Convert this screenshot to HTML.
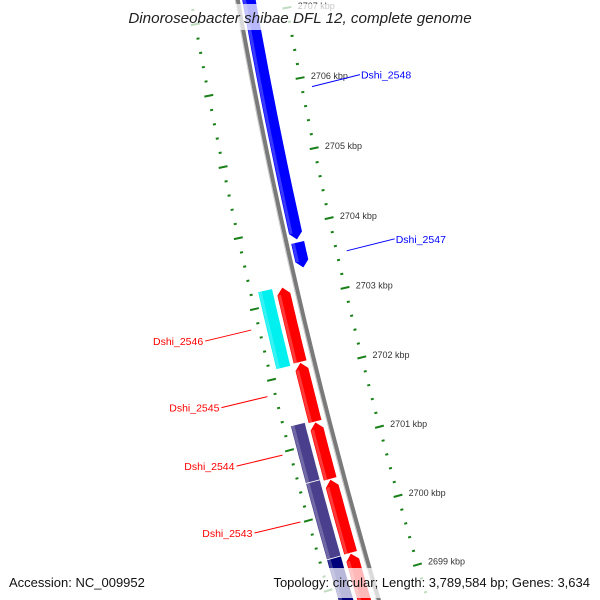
<!DOCTYPE html>
<html><head><meta charset="utf-8">
<style>
html,body{margin:0;padding:0;background:#fff;overflow:hidden;}
svg{display:block;overflow:hidden;font-family:"Liberation Sans","DejaVu Sans",sans-serif;}
</style></head>
<body>
<svg id="map" width="600" height="600" viewBox="0 0 600 600" xmlns="http://www.w3.org/2000/svg">
<defs><clipPath id="frame"><rect width="600" height="600"/></clipPath></defs>
<rect width="600" height="600" fill="#fff"/>
<g clip-path="url(#frame)">
<g id="ticks"></g>
<g id="backbone"></g>
<g id="genes"></g>
<g id="labels"></g>
</g>
<rect x="0" y="4" width="600" height="26" fill="#fff" opacity="0.72"/>
<text x="300" y="23" text-anchor="middle" font-size="15.2" font-style="italic" fill="#222">Dinoroseobacter shibae DFL 12, complete genome</text>
<rect x="0" y="568" width="600" height="30" fill="#fff" opacity="0.72"/>
<text x="9" y="587" font-size="13" fill="#111">Accession: NC_009952</text>
<text x="590" y="587" text-anchor="end" font-size="13" fill="#111">Topology: circular; Length: 3,789,584 bp; Genes: 3,634</text>
</svg>
<script>
// ---- data ----
const tickStart = 2698.6;
const tickEnd = 2707.6;
const tickStep = 0.2;
const tickLabelKbp = [2699, 2700, 2701, 2702, 2703, 2704, 2705, 2706, 2707];
const geneNames = ["Dshi_2548", "Dshi_2547", "Dshi_2546", "Dshi_2545", "Dshi_2544", "Dshi_2543", "Dshi_2542", "cyan-gene", "purple-gene-a", "purple-gene-b", "navy-gene"];
const geneStart = [2707.8, 2703.77, 2703.21, 2702.14, 2701.29, 2700.47, 2699.41, 2703.22, 2701.32, 2700.50, 2699.41];
const geneEnd   = [2703.80, 2703.40, 2702.14, 2701.29, 2700.47, 2699.41, 2698.4, 2702.12, 2700.50, 2699.41, 2698.4];
const geneTrack = [0, 0, 1, 1, 1, 1, 1, 2, 2, 2, 2];
const geneDir   = [-1, -1, 1, 1, 1, 1, 1, 0, 0, 0, 0];
const geneColor = ["#0000ff", "#0000ff", "#ff0000", "#ff0000", "#ff0000", "#ff0000", "#ff0000", "#00f0f0", "#4a3f8c", "#4a3f8c", "#00007a"];
const labelGenes = ["Dshi_2548", "Dshi_2547", "Dshi_2546", "Dshi_2545", "Dshi_2544", "Dshi_2543"];
const labelKbp = [2705.85, 2703.5, 2702.73, 2701.79, 2700.96, 2700.01];
const labelSide = [1, 1, -1, -1, -1, -1];

// ---- geometry (axis functions) ----
const CX = 5746.6, CY = -978.3;
const A0 = 0.19157, AK = 0.012894;
function pt(kbp, r) {
  const a = A0 + (2706 - kbp) * AK;
  return [CX - r * Math.cos(a), CY + r * Math.sin(a)];
}
const R_OUT = 5548, R_IN = 5641, R_BB = 5595;
const trackR = [[5577, 5591], [5602, 5616], [5619, 5634]];
const NS = "http://www.w3.org/2000/svg";
function mk(tag, attrs, parent) {
  const e = document.createElementNS(NS, tag);
  for (const k in attrs) e.setAttribute(k, attrs[k]);
  parent.appendChild(e);
  return e;
}
function arcPts(k1, k2, r, n) {
  const out = [];
  for (let i = 0; i <= n; i++) out.push(pt(k1 + (k2 - k1) * i / n, r));
  return out;
}
const P = p => p.map(q => q[0].toFixed(1) + "," + q[1].toFixed(1)).join(" ");

// ticks
const tg = document.getElementById("ticks");
const nT = Math.round((tickEnd - tickStart) / tickStep);
for (let i = 0; i <= nT; i++) {
  const k = tickStart + i * tickStep;
  const major = Math.abs(k - Math.round(k)) < 0.01;
  const h = major ? 4.5 : 1.5;
  [R_OUT, R_IN].forEach(r => {
    const a = pt(k, r - h), b = pt(k, r + h);
    const ln = mk("line", {x1: a[0], y1: a[1], x2: b[0], y2: b[1], stroke: "#1a801a", "stroke-width": 2}, tg);
    
    
  });
}
tickLabelKbp.forEach(k => {
  const p = pt(k, R_OUT - 11);
  const t = mk("text", {x: p[0], y: p[1] + 3, "font-size": 9, fill: "#333"}, tg);
  t.textContent = k + " kbp";
  
  
});

// backbone
const bb = document.getElementById("backbone");
const bbl = mk("polyline", {points: P(arcPts(2708, 2698.3, R_BB, 20)), fill: "none", stroke: "#7a7a7a", "stroke-width": 4}, bb);


const bbh = mk("polyline", {points: P(arcPts(2708, 2698.3, R_BB + 2.5, 20)), fill: "none", stroke: "#c8c8c8", "stroke-width": 1}, bb);



// genes
const gg = document.getElementById("genes");
const HEAD = 0.1;
geneNames.forEach((nm, i) => {
  const [r1, r2] = trackR[geneTrack[i]];
  const hi = Math.max(geneStart[i], geneEnd[i]), lo = Math.min(geneStart[i], geneEnd[i]);
  const rm = (r1 + r2) / 2;
  let pts;
  if (geneDir[i] === -1) {
    pts = arcPts(hi, lo + HEAD, r1, 12).concat([pt(lo, rm)], arcPts(lo + HEAD, hi, r2, 12));
  } else if (geneDir[i] === 1) {
    pts = arcPts(lo, hi - HEAD, r1, 12).concat([pt(hi, rm)], arcPts(hi - HEAD, lo, r2, 12));
  } else {
    pts = arcPts(hi, lo, r1, 12).concat(arcPts(lo, hi, r2, 12));
  }
  const g = mk("polygon", {points: P(pts), fill: geneColor[i], stroke: "#fff", "stroke-width": 0.8}, gg);
  
  
  const s1 = geneDir[i] === 1 ? hi - HEAD : hi, s0 = geneDir[i] === -1 ? lo + HEAD : lo;
  const sp = arcPts(s1, s0, r2 - 4, 8).concat(arcPts(s0, s1, r2 - 1, 8));
  const sh = mk("polygon", {points: P(sp), fill: "#fff", opacity: 0.22}, gg);
  
  
});

// labels
const lg = document.getElementById("labels");
labelGenes.forEach((nm, i) => {
  const gi = geneNames.indexOf(nm);
  const col = geneColor[gi];
  let a, b, anchor, tx;
  if (labelSide[i] === 1) {
    a = pt(labelKbp[i], R_OUT - 10);
    b = [a[0] + 48, a[1] - 12];
    anchor = "start"; tx = b[0] + 1;
  } else {
    a = pt(labelKbp[i], 5649);
    b = [a[0] - 46, a[1] + 11];
    anchor = "end"; tx = b[0] - 2;
  }
  const ln = mk("line", {x1: a[0], y1: a[1], x2: b[0], y2: b[1], stroke: col, "stroke-width": 1}, lg);
  
  
  const t = mk("text", {x: tx, y: b[1] + 4, "font-size": 10.5, fill: col, "text-anchor": anchor}, lg);
  t.textContent = nm;
  
  
});
</script>
</body></html>
